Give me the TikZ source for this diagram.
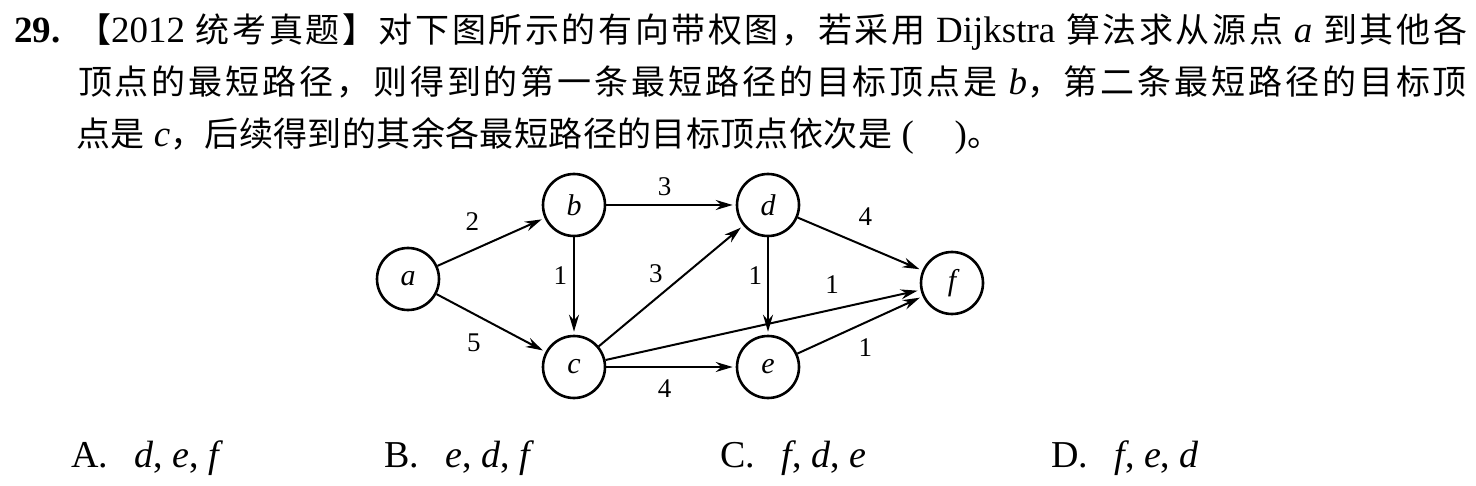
\documentclass[tikz,border=0pt]{standalone}
\usepackage{fontspec}
\setmainfont{Liberation Serif}
\newfontfamily\zhfont{Noto Sans CJK SC}
\usetikzlibrary{arrows,arrows.meta}

\newXeTeXintercharclass\zhclass
\makeatletter
\count@="3000
\loop
  \XeTeXcharclass\count@=\zhclass
  \advance\count@ by 1
\ifnum\count@<"A000 \repeat
\count@="FF00
\loop
  \XeTeXcharclass\count@=\zhclass
  \advance\count@ by 1
\ifnum\count@<"FF20 \repeat
\makeatother
\XeTeXinterchartoks\zhclass\zhclass={\hskip 0pt plus 4pt\relax}
\newcommand\zh[1]{{\zhfont\fontsize{17}{22}\selectfont\XeTeXinterchartokenstate=1 #1}}

\begin{document}
\begin{tikzpicture}[x=0.5pt,y=-0.5pt,-,>={Stealth[length=8.5pt,width=5pt,inset=2.8pt]},shorten >=1.5pt,auto,
  line width=1pt,
  main node/.style={circle,draw,line width=1.3pt,minimum size=31pt,inner sep=0pt,font=\fontsize{15}{16}\selectfont\itshape},
  weight/.style={font=\fontsize{13.5}{15}\selectfont},
  question/.style={anchor=base west,inner sep=0pt,font=\fontsize{18.5}{22}\selectfont},
  choice/.style={anchor=base west,inner sep=0pt,font=\fontsize{19}{22}\selectfont}]

  \useasboundingbox (0,0) rectangle (1476,486);

  \node[question] (line1) at (13,43) {\makebox[726.5pt][s]{\textbf{29.} \zh{【}2012 \zh{统考真题】对下图所示的有向带权图，若采用} Dijkstra \zh{算法求从源点} \textit{a} \zh{到其他各}}};
  \node[question] (line2) at (77,95) {\makebox[694.5pt][s]{\zh{顶点的最短路径，则得到的第一条最短路径的目标顶点是} \textit{b}\zh{，第二条最短路径的目标顶}}};
  \node[question] (line3) at (75,147) {\makebox[462.5pt][s]{\zh{点是} \textit{c}\zh{，后续得到的其余各最短路径的目标顶点依次是} (\hspace{1.1em})\zh{。}}};

  \node[main node] (a) at (408,279) {a};
  \node[main node] (b) at (574,205) {b};
  \node[main node] (c) at (574,367) {c};
  \node[main node] (d) at (768,205) {d};
  \node[main node] (e) at (768,367) {e};
  \node[main node] (f) at (952,283) {f};

  \path[->,every node/.style={weight}]
    (a) edge node[pos=0.5,inner sep=5.5pt] {2} (b)
    (a) edge node[pos=0.5,inner sep=4.7pt,swap] {5} (c)
    (b) edge node[pos=0.45,inner sep=4.3pt] {3} (d)
    (b) edge node[pos=0.39,inner sep=2.9pt,swap] {1} (c)
    (c) edge node[pos=0.48,inner sep=2.3pt] {3} (d)
    (c) edge node[pos=0.78,inner sep=5.7pt] {1} (f)
    (c) edge node[pos=0.45,inner sep=5.9pt,swap] {4} (e)
    (d) edge node[pos=0.39,inner sep=2.4pt,swap] {1} (e)
    (d) edge node[pos=0.39,inner sep=5.6pt] {4} (f)
    (e) edge node[pos=0.415,inner sep=4.1pt,swap] {1} (f);

  \node[choice] (optA) at (70,467) {A.\hspace{0.7em}\textit{d}, \textit{e}, \textit{f}};
  \node[choice] (optB) at (383,467) {B.\hspace{0.7em}\textit{e}, \textit{d}, \textit{f}};
  \node[choice] (optC) at (719,467) {C.\hspace{0.7em}\textit{f}, \textit{d}, \textit{e}};
  \node[choice] (optD) at (1050,467) {D.\hspace{0.7em}\textit{f}, \textit{e}, \textit{d}};

\end{tikzpicture}
\end{document}
